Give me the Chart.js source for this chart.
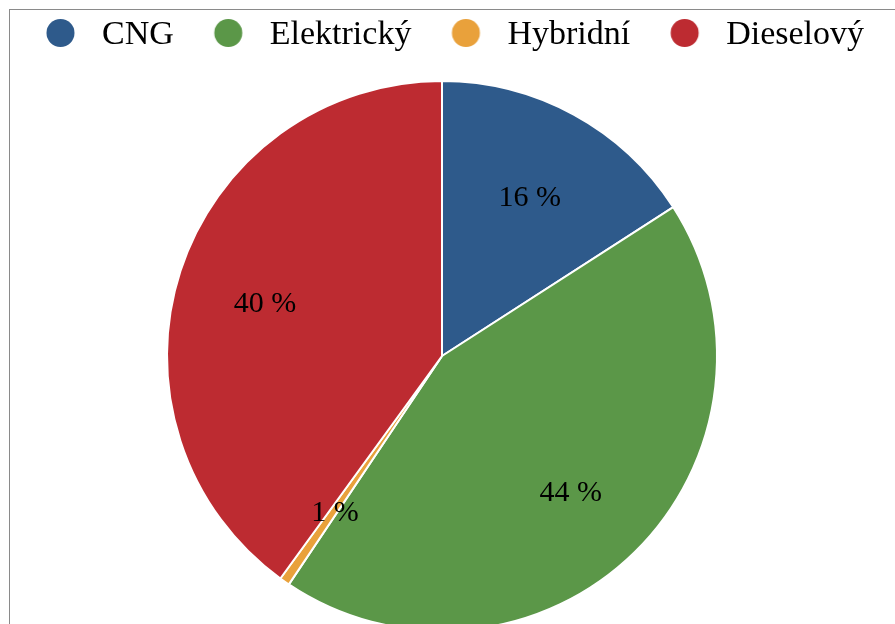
<!DOCTYPE html>
<html lang="cs">
<head>
<meta charset="UTF-8">
<title>Podíl pohonů</title>
<script src="https://cdn.jsdelivr.net/npm/chart.js"></script>
<style>
    body {
        margin: 0;
        padding: 0;
        background: #ffffff;
        width: 895px;
        height: 624px;
        overflow: hidden;
        position: relative;
    }
    #frame {
        position: absolute;
        left: 9px;
        top: 9px;
        width: 1000px;
        height: 1000px;
        border: 1px solid #8a8a8a;
    }
    #chart-container {
        position: absolute;
        left: 0;
        top: 0;
        width: 895px;
        height: 680px;
    }
</style>
</head>
<body>
<div id="frame"></div>
<div id="chart-container">
    <canvas id="pieChart" width="895" height="680"></canvas>
</div>
<script>
    const categories = ['CNG', 'Elektrický', 'Hybridní', 'Dieselový'];
    const shares = [15.9, 43.5, 0.6, 40.0];
    const colors = ['#2e5a8b', '#5b9748', '#e9a13b', '#bd2b31'];

    const fontFamily = "'Liberation Serif', 'Times New Roman', serif";

    // legend marker: blank space on the left, then the dot, then a little gap
    function makeDot(color) {
        const c = document.createElement('canvas');
        c.width = 75;
        c.height = 38;
        const g = c.getContext('2d');
        g.fillStyle = color;
        g.beginPath();
        g.arc(36.5 + 14, 17, 14, 0, Math.PI * 2);
        g.fill();
        return c;
    }
    const dots = colors.map(makeDot);

    const pctLabels = {
        id: 'pctLabels',
        afterDatasetsDraw(chart) {
            const meta = chart.getDatasetMeta(0);
            const total = shares.reduce((a, b) => a + b, 0);
            const ctx = chart.ctx;
            ctx.save();
            ctx.font = '30px ' + fontFamily;
            ctx.fillStyle = '#000000';
            ctx.textAlign = 'center';
            ctx.textBaseline = 'middle';
            meta.data.forEach((arc, i) => {
                const p = arc.getProps(['x', 'y', 'startAngle', 'endAngle', 'outerRadius'], true);
                const mid = (p.startAngle + p.endAngle) / 2;
                const r = p.outerRadius * 0.673;
                const txt = Math.round(shares[i] / total * 100) + ' %';
                // small downward nudge so the digits sit where Excel puts them
                ctx.fillText(txt, p.x + Math.cos(mid) * r - 1, p.y + Math.sin(mid) * r + 5);
            });
            ctx.restore();
        }
    };

    const ctx = document.getElementById('pieChart').getContext('2d');
    new Chart(ctx, {
        type: 'pie',
        data: {
            labels: categories,
            datasets: [{
                data: shares,
                backgroundColor: colors,
                borderColor: '#ffffff',
                borderWidth: 2,
                radius: 275
            }]
        },
        options: {
            responsive: false,
            animation: false,
            layout: {
                padding: { left: 6, right: 17, top: 14, bottom: 30 }
            },
            plugins: {
                tooltip: { enabled: false },
                legend: {
                    position: 'top',
                    align: 'start',
                    labels: {
                        usePointStyle: true,
                        pointStyleWidth: 75,
                        padding: 4,
                        color: '#000000',
                        font: { family: fontFamily, size: 34 },
                        generateLabels(chart) {
                            return chart.data.labels.map((t, i) => ({
                                text: t,
                                fillStyle: colors[i],
                                strokeStyle: colors[i],
                                lineWidth: 0,
                                pointStyle: dots[i],
                                hidden: !chart.getDataVisibility(i),
                                index: i
                            }));
                        }
                    }
                }
            }
        },
        plugins: [pctLabels]
    });
</script>
</body>
</html>
